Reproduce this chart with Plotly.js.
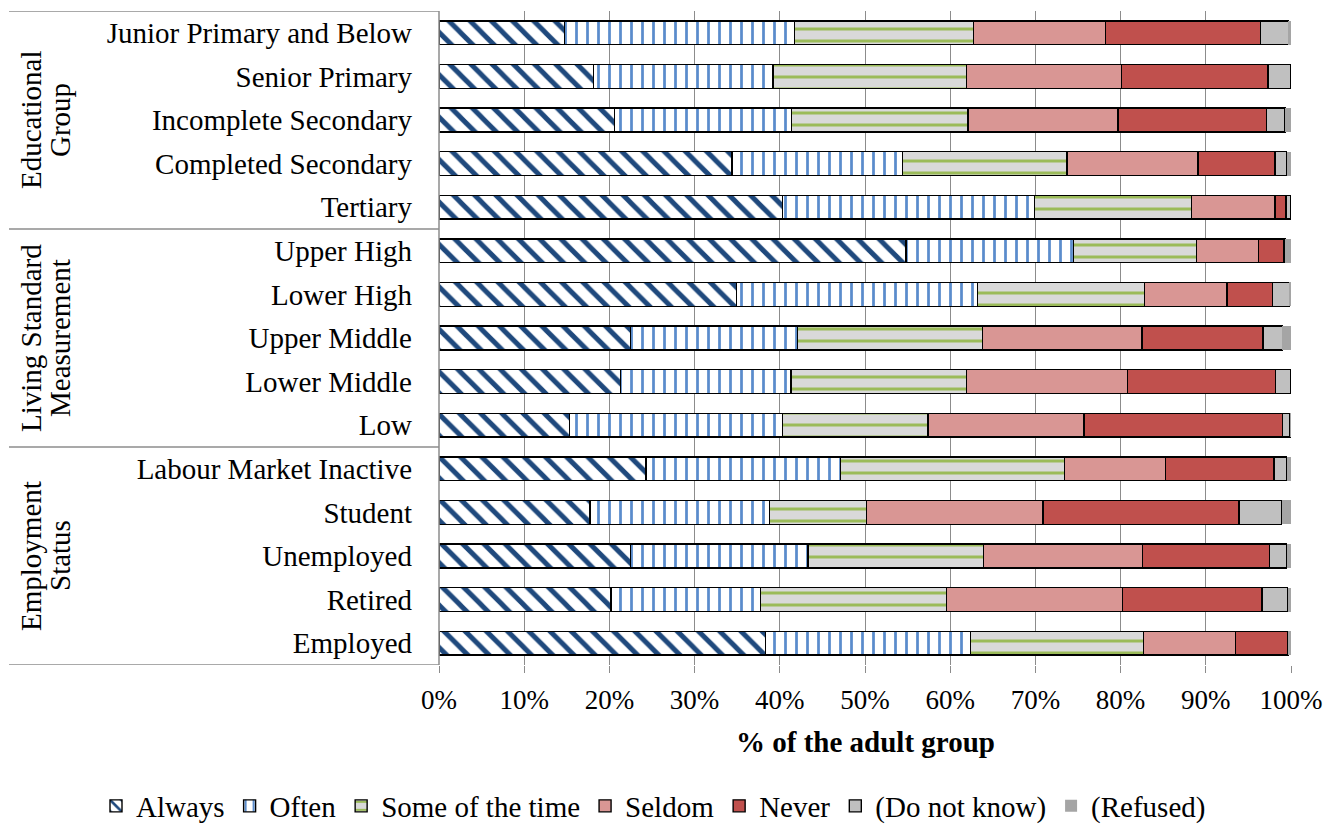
<!DOCTYPE html>
<html>
<head>
<meta charset="utf-8">
<script src="https://cdn.plot.ly/plotly-3.0.1.min.js"></script>
<style>
html,body{margin:0;padding:0;background:#fff;}
#chart{width:1340px;height:827px;}
</style>
</head>
<body>
<div id="chart"></div>
<script>
// ---- Data (percent of adult group) ----
const categories = [
  "Junior Primary and Below", "Senior Primary", "Incomplete Secondary", "Completed Secondary", "Tertiary",
  "Upper High", "Lower High", "Upper Middle", "Lower Middle", "Low",
  "Labour Market Inactive", "Student", "Unemployed", "Retired", "Employed"
];
const always    = [14.7, 18.1, 20.6, 34.4, 40.3, 54.8, 34.9, 22.5, 21.3, 15.3, 24.3, 17.7, 22.5, 20.2, 38.3];
const often     = [27.0, 21.1, 20.8, 20.0, 29.6, 19.7, 28.3, 19.6, 20.0, 25.0, 22.8, 21.1, 20.8, 17.5, 24.1];
const someTime  = [21.0, 22.7, 20.7, 19.3, 18.4, 14.4, 19.6, 21.7, 20.6, 17.1, 26.3, 11.4, 20.6, 21.9, 20.3];
const seldom    = [15.5, 18.2, 17.6, 15.4,  9.8,  7.3,  9.7, 18.7, 18.9, 18.3, 11.9, 20.7, 18.7, 20.6, 10.8];
const never     = [18.2, 17.2, 17.4,  9.0,  1.3,  2.9,  5.3, 14.2, 17.4, 23.3, 12.7, 23.0, 14.9, 16.4,  6.1];
const dontKnow  = [ 3.3,  2.7,  2.2,  1.4,  0.6,  0.2,  2.0,  2.3,  1.8,  0.9,  1.5,  5.0,  2.0,  3.0,  0.1];
const refused   = [ 0.3,  0.0,  0.7,  0.5,  0.0,  0.7,  0.2,  1.0,  0.0,  0.1,  0.5,  1.1,  0.5,  0.4,  0.3];

const groupLabels = [
  ["Educational", "Group"],
  ["Living Standard", "Measurement"],
  ["Employment", "Status"]
];
const groupCenters = [2, 7, 12];      // category index at centre of each group
const groupSeparators = [-0.5, 4.5, 9.5, 14.5];

const xTickVals = [0,10,20,30,40,50,60,70,80,90,100];
const xTickText = xTickVals.map(v => v + "%");
const xTitle = "% of the adult group";

// ---- Styling ----
const FONT = "Liberation Serif, Times New Roman, serif";
const outline = {color: "#000000", width: 1.4};

function barTrace(name, values, marker) {
  return {
    type: "bar", orientation: "h", name: name,
    y: categories, x: values,
    marker: marker,
    hovertemplate: "%{y}: %{x:.1f}%<extra>" + name + "</extra>"
  };
}

const traces = [
  barTrace("Always", always, {
    color: "#ffffff", line: outline,
    pattern: {shape: "\\", fgcolor: "#1f497d", bgcolor: "#ffffff", size: 15, solidity: 0.33}
  }),
  barTrace("Often", often, {
    color: "#ffffff", line: outline,
    pattern: {shape: "|", fgcolor: "#5a8ccc", bgcolor: "#ffffff", size: 11, solidity: 0.25}
  }),
  barTrace("Some of the time", someTime, {
    color: "#d9d9d9", line: outline,
    pattern: {shape: "-", fgcolor: "#9bbb59", bgcolor: "#d9d9d9", size: 12, solidity: 0.25}
  }),
  barTrace("Seldom", seldom, {color: "#d99694", line: outline}),
  barTrace("Never", never, {color: "#c0504d", line: outline}),
  barTrace("(Do not know)", dontKnow, {color: "#c0c0c0", line: outline}),
  barTrace("(Refused)", refused, {color: "#a5a5a5", line: {width: 0}})
];

// plot area in pixels
const L = 439, R = 1291, T = 11, B = 665;
const W = 1340, H = 827;
const pxToPaperX = px => (px - L) / (R - L);
const pxToPaperY = py => (B - py) / (B - T);

const shapes = [];
groupSeparators.forEach(v => {
  shapes.push({type: "line", xref: "paper", yref: "y", x0: pxToPaperX(9), x1: 0, y0: v, y1: v,
               line: {color: "#8c8c8c", width: 1.5}});
});
shapes.push({type: "line", xref: "paper", yref: "y", x0: 0, x1: 0, y0: -0.5, y1: 14.5,
             line: {color: "#8c8c8c", width: 1.5}});

const annotations = [];
groupLabels.forEach((lines, i) => {
  const xs = [31, 60];
  lines.forEach((t, j) => {
    annotations.push({
      text: t, xref: "paper", yref: "y", x: pxToPaperX(xs[j]), y: groupCenters[i],
      xanchor: "center", yanchor: "middle", textangle: -90, showarrow: false,
      font: {family: FONT, size: 29, color: "#000"}
    });
  });
});
// x-axis title
annotations.push({
  text: "<b>" + xTitle + "</b>", xref: "paper", yref: "paper", x: 0.5, y: pxToPaperY(742),
  xanchor: "center", yanchor: "middle", showarrow: false,
  font: {family: FONT, size: 29, color: "#000"}
});

const layout = {
  width: W, height: H,
  margin: {l: L, r: W - R, t: T, b: H - B, pad: 0, autoexpand: false},
  paper_bgcolor: "#ffffff", plot_bgcolor: "#ffffff",
  barmode: "stack",
  bargap: 0.45,
  font: {family: FONT, size: 28, color: "#000"},
  showlegend: true,
  legend: {
    orientation: "h", xref: "paper", x: pxToPaperX(96), xanchor: "left",
    yref: "paper", y: pxToPaperY(806), yanchor: "middle",
    font: {family: FONT, size: 29, color: "#000"},
    traceorder: "normal", itemclick: false, itemdoubleclick: false,
    tracegroupgap: 0, itemwidth: 30
  },
  xaxis: {
    range: [0, 100], tickvals: xTickVals, ticktext: xTickText,
    showgrid: true, gridcolor: "#8c8c8c", gridwidth: 1.3,
    zeroline: false, showline: false,
    ticks: "outside", ticklen: 7, tickcolor: "#8c8c8c", tickwidth: 1.3,
    ticklabelstandoff: 4,
    tickfont: {family: FONT, size: 27, color: "#000"},
    fixedrange: true
  },
  yaxis: {
    type: "category", categoryorder: "array", categoryarray: categories,
    range: [14.5, -0.5],
    showgrid: false, zeroline: false, showline: false, ticks: "",
    ticklabelstandoff: 26,
    tickfont: {family: FONT, size: 29, color: "#000"},
    fixedrange: true
  },
  shapes: shapes,
  annotations: annotations
};

Plotly.newPlot("chart", traces, layout, {displayModeBar: false});
</script>
</body>
</html>
